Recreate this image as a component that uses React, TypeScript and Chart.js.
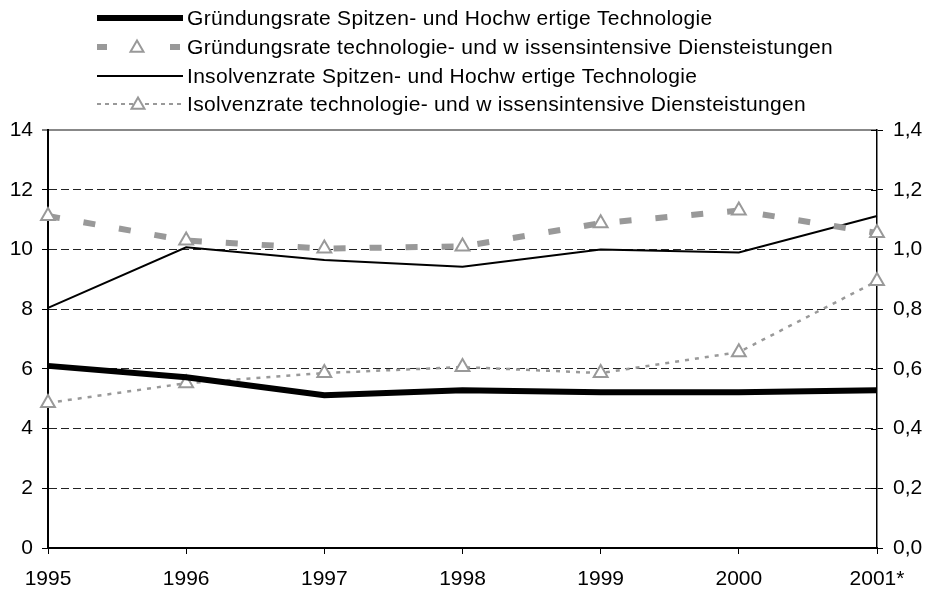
import React, { useEffect, useRef } from "react";
import { Chart, registerables } from "chart.js";
Chart.register(...registerables);

const categories = ["1995", "1996", "1997", "1998", "1999", "2000", "2001*"];
const gruendungSpitzen = [6.1, 5.72, 5.12, 5.28, 5.22, 5.22, 5.28];
const gruendungDienst = [11.12, 10.3, 10.03, 10.1, 10.88, 11.3, 10.55];
const insolvenzSpitzen = [0.804, 1.007, 0.965, 0.942, 1.0, 0.99, 1.112];
const insolvenzDienst = [0.486, 0.552, 0.586, 0.606, 0.586, 0.656, 0.894];
const seriesLabels = [
  "Gründungsrate Spitzen- und Hochw ertige Technologie",
  "Gründungsrate technologie- und w issensintensive Diensteistungen",
  "Insolvenzrate Spitzen- und Hochw ertige Technologie",
  "Isolvenzrate technologie- und w issensintensive Diensteistungen",
];

const GRAY = "#999999";
const FONT = "'Liberation Sans', Arial, sans-serif";

const legendPlugin = {
  id: "customLegend",
  afterDraw(chart: any) {
    const ctx = chart.ctx as any;
    const x0 = 97, x1 = 183, tx = 187;
    const rows = [18, 47, 76, 104];
    ctx.save();
    const drawTri = (cx: number, cy: number, r: number) => {
      ctx.beginPath();
      for (let k = 0; k < 3; k++) {
        const a = k * (2 * Math.PI / 3);
        const px = cx + Math.sin(a) * r;
        const py = cy - Math.cos(a) * r;
        if (k === 0) ctx.moveTo(px, py); else ctx.lineTo(px, py);
      }
      ctx.closePath();
      ctx.fillStyle = "#fff";
      ctx.fill();
      ctx.setLineDash([]);
      ctx.lineWidth = 2;
      ctx.strokeStyle = GRAY;
      ctx.stroke();
    };
    ctx.lineCap = "butt";
    ctx.strokeStyle = "#000";
    ctx.lineWidth = 6;
    ctx.beginPath(); ctx.moveTo(x0, rows[0]); ctx.lineTo(x1, rows[0]); ctx.stroke();
    ctx.strokeStyle = GRAY;
    ctx.lineWidth = 6;
    ctx.setLineDash([10, 63]);
    ctx.beginPath(); ctx.moveTo(x0, rows[1]); ctx.lineTo(x1, rows[1]); ctx.stroke();
    drawTri(137, rows[1] + 1, 7.5);
    ctx.setLineDash([]);
    ctx.strokeStyle = "#000";
    ctx.lineWidth = 2;
    ctx.beginPath(); ctx.moveTo(x0, rows[2]); ctx.lineTo(x1, rows[2]); ctx.stroke();
    ctx.strokeStyle = GRAY;
    ctx.lineWidth = 2;
    ctx.setLineDash([4, 4]);
    ctx.beginPath(); ctx.moveTo(x0, rows[3]); ctx.lineTo(x1, rows[3]); ctx.stroke();
    drawTri(138, rows[3] + 1, 7.5);
    ctx.setLineDash([]);
    ctx.fillStyle = "#000";
    ctx.font = `21px ${FONT}`;
    ctx.letterSpacing = "0.3px";
    ctx.textBaseline = "middle";
    ctx.textAlign = "left";
    seriesLabels.forEach((t, i) => ctx.fillText(t, tx, rows[i] + 1));
    ctx.letterSpacing = "0px";
    const y1 = chart.scales.y1;
    const right = chart.chartArea.right;
    ctx.strokeStyle = "#000";
    ctx.lineWidth = 1;
    y1.ticks.forEach((tk: any) => {
      const py = Math.round(y1.getPixelForValue(tk.value)) + 0.5;
      ctx.beginPath(); ctx.moveTo(right - 6, py); ctx.lineTo(right, py); ctx.stroke();
    });
    ctx.restore();
  },
};

export default function App() {
  const ref = useRef<HTMLCanvasElement | null>(null);
  useEffect(() => {
    document.body.style.margin = "0";
    Chart.defaults.font.family = FONT;
    Chart.defaults.color = "#000";
    const chart = new Chart(ref.current!, {
      type: "line",
      data: {
        labels: categories,
        datasets: [
          {
            label: seriesLabels[0],
            data: gruendungSpitzen,
            yAxisID: "y",
            borderColor: "#000",
            borderWidth: 6,
            pointRadius: 0,
            tension: 0,
          },
          {
            label: seriesLabels[1],
            data: gruendungDienst,
            yAxisID: "y",
            borderColor: GRAY,
            borderWidth: 6,
            borderDash: [12, 24],
            pointStyle: "triangle",
            pointRadius: 8,
            pointBorderWidth: 2,
            pointBorderColor: GRAY,
            pointBackgroundColor: "#fff",
            tension: 0,
          },
          {
            label: seriesLabels[2],
            data: insolvenzSpitzen,
            yAxisID: "y1",
            borderColor: "#000",
            borderWidth: 2,
            pointRadius: 0,
            tension: 0,
          },
          {
            label: seriesLabels[3],
            data: insolvenzDienst,
            yAxisID: "y1",
            borderColor: GRAY,
            borderWidth: 2.5,
            borderDash: [4, 6],
            pointStyle: "triangle",
            pointRadius: 8,
            pointBorderWidth: 2,
            pointBorderColor: GRAY,
            pointBackgroundColor: "#fff",
            tension: 0,
          },
        ],
      },
      options: {
        responsive: false,
        animation: false,
        layout: { padding: { top: 130, left: 0, right: 0, bottom: 0 } },
        plugins: { legend: { display: false }, tooltip: { enabled: false } },
        scales: {
          x: {
            offset: false,
            afterFit: (s: any) => { s.height = 45; },
            grid: { drawOnChartArea: false, drawTicks: true, tickLength: 6, tickColor: "#000", tickWidth: 1 },
            border: { display: true, color: "#000", width: 2 },
            ticks: { font: { size: 21 }, color: "#000", padding: 13, autoSkip: false, maxRotation: 0 },
          },
          y: {
            position: "left",
            min: 0,
            max: 14,
            afterFit: (s: any) => { s.width = 48; },
            ticks: { stepSize: 2, font: { size: 21 }, color: "#000", padding: 9 },
            grid: {
              color: (c: any) => (c.tick && c.tick.value === 14 ? "#888" : "#222"),
              lineWidth: (c: any) => (c.tick && c.tick.value === 14 ? 2 : 1),
              drawTicks: true,
              tickLength: 6,
              tickColor: "#000",
              tickWidth: 1,
              tickBorderDash: [],
            },
            border: {
              display: true,
              color: "#000",
              width: 2,
              dash: (c: any) => (c.tick && (c.tick.value === 14 || c.tick.value === 0) ? [] : [8, 4]),
            },
          },
          y1: {
            position: "right",
            min: 0,
            max: 1.4,
            afterFit: (s: any) => { s.width = 50; },
            ticks: {
              stepSize: 0.2,
              font: { size: 21 },
              color: "#000",
              padding: 10,
              callback: (v: any) => Number(v).toFixed(1).replace(".", ","),
            },
            grid: { drawOnChartArea: false, drawTicks: true, tickLength: 6, tickColor: "#000", tickWidth: 1 },
            border: { display: true, color: "#000", width: 1.5 },
          },
        },
      },
      plugins: [legendPlugin],
    } as any);
    return () => chart.destroy();
  }, []);
  return (
    <div style={{ width: 927, height: 593 }}>
      <canvas ref={ref} width={927} height={593} />
    </div>
  );
}
